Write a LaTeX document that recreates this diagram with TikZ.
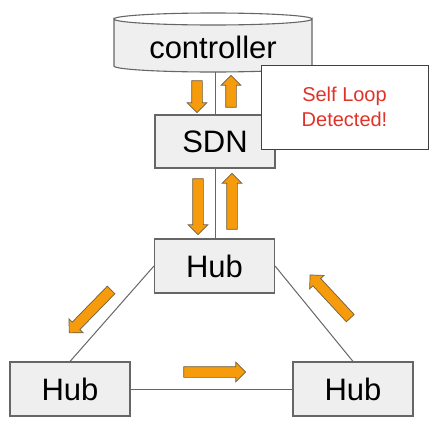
\documentclass[tikz,border=0pt]{standalone}
\usepackage{fontspec}
\setmainfont{Liberation Sans}
\usetikzlibrary{shapes.arrows}
\definecolor{boxfill}{HTML}{EFEFEF}
\definecolor{boxline}{HTML}{666666}
\definecolor{arrfill}{RGB}{245,155,12}
\definecolor{arrline}{RGB}{110,95,70}
\definecolor{alertred}{RGB}{225,50,40}
\begin{document}
\begin{tikzpicture}[x=1pt,y=-1pt,
  hubbox/.style={draw=boxline, line width=1.1pt, fill=boxfill, minimum width=120pt, minimum height=54pt, inner sep=0pt, font=\fontsize{31}{36}\selectfont},
  link/.style={draw=boxline, line width=1pt},
  flow/.style={single arrow, draw=arrline, line width=0.7pt, fill=arrfill, inner sep=5pt, single arrow head extend=4.5pt, single arrow head indent=0pt, minimum height=#1},
  flow/.default=56pt
]
\useasboundingbox (0,0) rectangle (438,426);
% nodes (invisible anchor for controller)
\node[minimum width=198pt, minimum height=59pt, inner sep=0pt] (ctrl) at (213,42.5) {};
\node[hubbox, minimum width=120pt, minimum height=53pt] (sdn) at (215,141.5) {SDN};
\node[hubbox] (hubT) at (214.5,266) {Hub};
\node[hubbox] (hubL) at (70,389) {Hub};
\node[hubbox] (hubR) at (353,389) {Hub};
% connectors
\draw[link] (sdn.north) -- (sdn.north |- ctrl.south);
\draw[link] (sdn.south) -- (sdn.south |- hubT.north);
\draw[link] (hubT.west) -- (hubL.north);
\draw[link] (hubT.east) -- (hubR.north);
\draw[link] (hubL.east) -- (hubR.west);
% redraw boxes above the lines
\node[hubbox, minimum width=120pt, minimum height=53pt] at (sdn) {SDN};
\node[hubbox] at (hubT) {Hub};
\node[hubbox] at (hubL) {Hub};
\node[hubbox] at (hubR) {Hub};
% controller cylinder
\path[draw=boxline, line width=1.1pt, fill=boxfill]
  (114,19) -- (114,66) arc[start angle=180, end angle=360, x radius=99, y radius=-6] -- (312,19)
  arc[start angle=0, end angle=180, x radius=99, y radius=6] -- cycle;
\draw[draw=boxline, line width=1.1pt] (114,19) arc[start angle=180, end angle=360, x radius=99, y radius=6];
\node[font=\fontsize{31}{36}\selectfont, anchor=base] (ctrltext) at (213,58) {controller};
% alert box
\node[draw=black!75, line width=1pt, fill=white, minimum width=167pt, minimum height=84pt, inner sep=0pt, align=center, text=alertred, font=\fontsize{20}{25}\selectfont] (alert) at (344.5,107) {Self Loop\\Detected!};
% flow arrows
\node[flow=32pt, rotate=270] (a1) at (197,94) {};
\node[flow=32pt, rotate=90] (a2) at (231,94) {};
\node[flow=56pt, rotate=270] (a3) at (198,204) {};
\node[flow=56pt, rotate=90] (a4) at (232,204) {};
\node[flow=60pt, rotate=225.7] (a5) at (92,309.5) {};
\node[flow=59pt, rotate=132.9] (a6) at (332,298.5) {};
\node[flow=62pt, rotate=0] (a7) at (212,372) {};
\end{tikzpicture}
\end{document}
